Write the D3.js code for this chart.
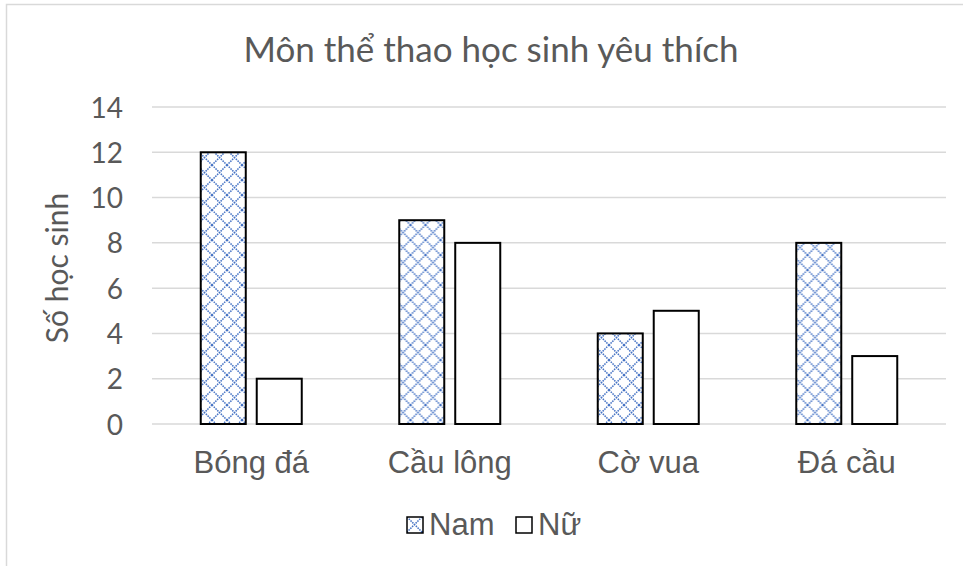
<!DOCTYPE html>
<html>
<head>
<meta charset="utf-8">
<script src="https://cdn.jsdelivr.net/npm/d3@7"></script>
<style>
  body { margin: 0; background: #fff; }
  svg { display: block; }
</style>
</head>
<body>
<div id="chart"></div>
<script>
const w = 963;
const h = 566;

// data
const categories = ['Bóng đá', 'Cầu lông', 'Cờ vua', 'Đá cầu'];
const seriesNames = ['Nam', 'Nữ'];
const namValues = [12, 9, 4, 8];
const nuValues = [2, 8, 5, 3];
const yTicks = [0, 2, 4, 6, 8, 10, 12, 14];

const plot = {left: 152, right: 946, top: 107, bottom: 424};
const textColor = '#595959';
const gridColor = '#d9d9d9';

const svg = d3.select('#chart').
append('svg').
attr('width', w).
attr('height', h);

// hatch pattern for "Nam"
const defs = svg.append('defs');
const pat = defs.append('pattern').
attr('id', 'lattice').
attr('patternUnits', 'userSpaceOnUse').
attr('width', 15).
attr('height', 15);
pat.append('rect').attr('width', 15).attr('height', 15).attr('fill', '#fff');
pat.append('path').
attr('d', 'M0,0L15,15M15,0L0,15M-1,14L1,16M14,-1L16,1').
attr('stroke', '#4472c4').
attr('stroke-width', 1.5).
attr('stroke-dasharray', '1.5,1').
attr('fill', 'none');

// chart border
svg.append('rect').
attr('x', 6.5).attr('y', 4.5).
attr('width', w + 10).attr('height', h + 10).
attr('fill', 'none').
attr('stroke', gridColor).
attr('stroke-width', 1.5);

const x0 = d3.scaleBand().
domain(categories).
range([plot.left, plot.right]);

const x1 = d3.scaleBand().
domain(seriesNames).
range([x0.bandwidth() / 2 - 50.5, x0.bandwidth() / 2 + 50.5]).
paddingInner(0.196);

const y = d3.scaleLinear().
domain([0, 14]).
range([plot.bottom, plot.top]);

// grid
svg.append('g').
selectAll('line').
data(yTicks).
join('line').
attr('x1', plot.left).
attr('x2', plot.right).
attr('y1', d => y(d)).
attr('y2', d => y(d)).
attr('stroke', gridColor).
attr('stroke-width', 1.5);

// y axis labels
const yAxis = d3.axisLeft(y).tickValues(yTicks).tickSize(0).tickPadding(0);
svg.append('g').
attr('transform', 'translate(123,0)').
call(yAxis).
call(g => g.select('.domain').remove()).
selectAll('text').
attr('font-family', 'Lato, sans-serif').
attr('font-size', 28).
attr('fill', textColor).
attr('dy', '0.36em');

// x axis labels
const xAxis = d3.axisBottom(x0).tickSize(0).tickPadding(0);
svg.append('g').
attr('transform', 'translate(0,' + (plot.bottom + 27) + ')').
call(xAxis).
call(g => g.select('.domain').remove()).
selectAll('text').
attr('font-family', 'Liberation Sans, Arial, sans-serif').
attr('font-size', 31).
attr('fill', textColor);

// bars
const rows = categories.map((c, i) => ({cat: c, vals: [namValues[i], nuValues[i]]}));
const groups = svg.append('g').
selectAll('g').
data(rows).
join('g').
attr('transform', d => 'translate(' + x0(d.cat) + ',0)');

groups.selectAll('rect').
data(d => d.vals.map((v, j) => ({name: seriesNames[j], value: v}))).
join('rect').
attr('x', d => x1(d.name)).
attr('y', d => y(d.value)).
attr('width', x1.bandwidth()).
attr('height', d => y(0) - y(d.value)).
attr('fill', d => d.name === 'Nam' ? 'url(#lattice)' : '#fff').
attr('stroke', '#000').
attr('stroke-width', 2);

// title
svg.append('text').
attr('x', 491).
attr('y', 62).
attr('text-anchor', 'middle').
attr('font-family', 'Lato, sans-serif').
attr('font-size', 35).
attr('fill', textColor).
text('Môn thể thao học sinh yêu thích');

// y axis title
svg.append('text').
attr('transform', 'translate(68,' + 268 + ') rotate(-90)').
attr('text-anchor', 'middle').
attr('font-family', 'Lato, sans-serif').
attr('font-size', 30).
attr('fill', textColor).
text('Số học sinh');

// legend
const legendX = [407, 516];
const legend = svg.append('g').
selectAll('g').
data(seriesNames).
join('g').
attr('transform', (d, i) => 'translate(' + legendX[i] + ',517)');

legend.append('rect').
attr('x', 0).attr('y', 0).
attr('width', 16).attr('height', 16).
attr('fill', d => d === 'Nam' ? 'url(#lattice)' : '#fff').
attr('stroke', '#000').
attr('stroke-width', 1.5);

legend.append('text').
attr('x', 22).
attr('y', 18).
attr('font-family', 'Liberation Sans, Arial, sans-serif').
attr('font-size', 31).
attr('fill', textColor).
text(d => d);
</script>
</body>
</html>
